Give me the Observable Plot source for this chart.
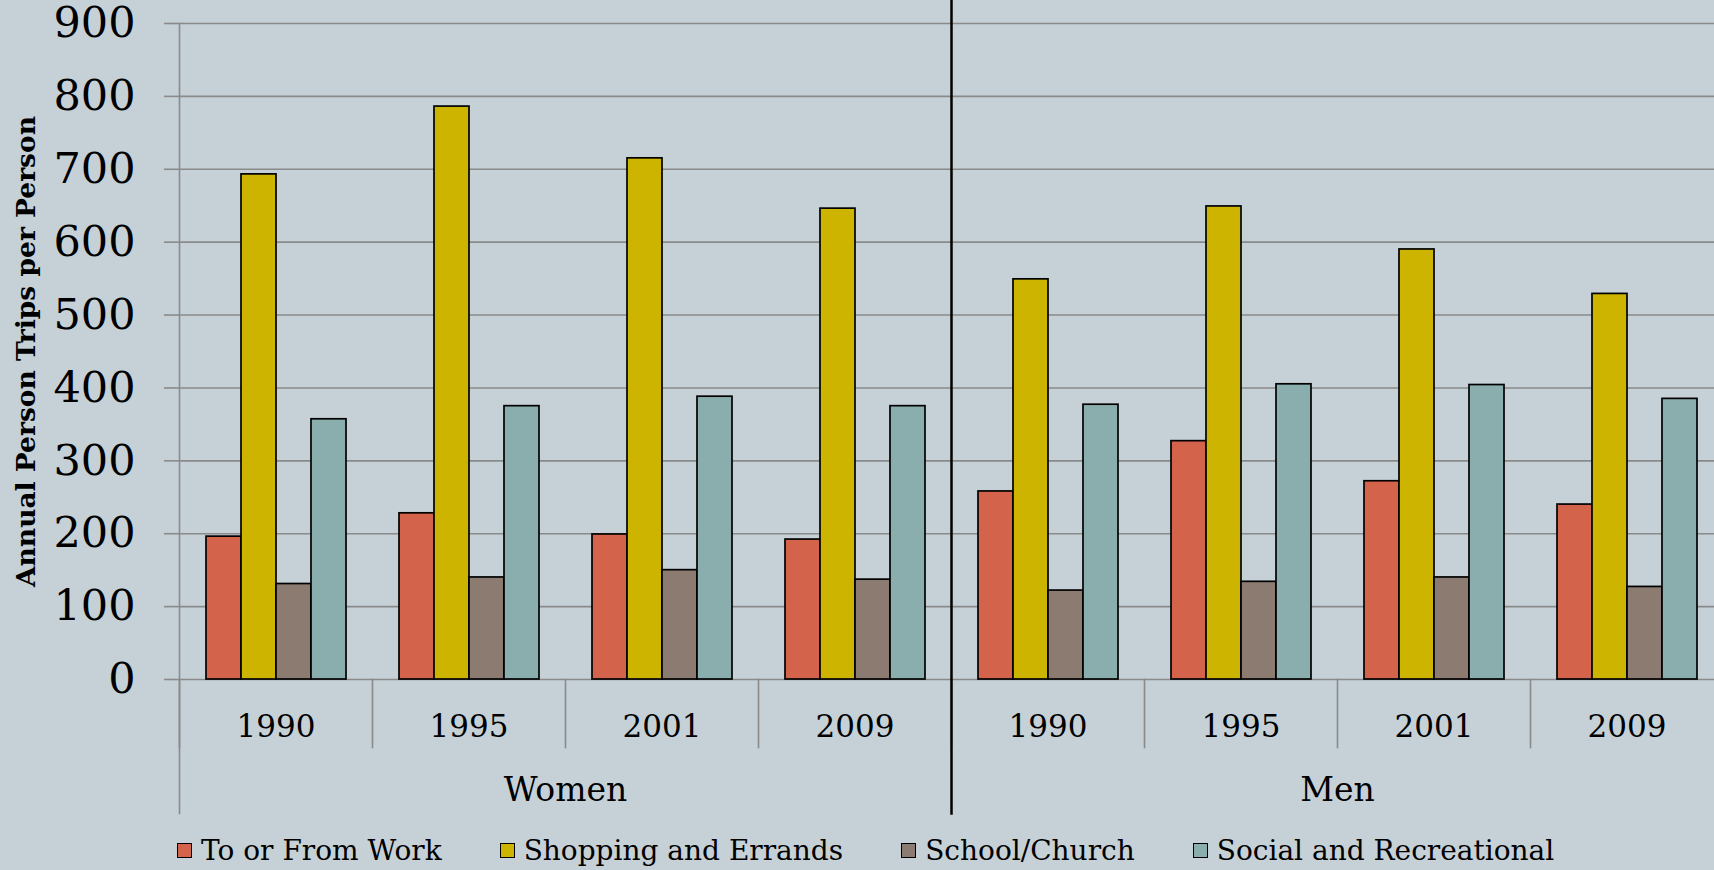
<!DOCTYPE html>
<html><head><meta charset="utf-8">
<script src="https://cdn.jsdelivr.net/npm/d3@7"></script>
<script src="https://cdn.jsdelivr.net/npm/@observablehq/plot@0.6"></script>
<style>
html,body{margin:0;padding:0;background:#c6d1d7;overflow:hidden;width:1714px;height:870px}
#legend{display:flex;align-items:center;height:40px;padding-left:177px;font-family:"DejaVu Serif";font-size:28px;color:#000;white-space:nowrap}
.item{display:flex;align-items:center;margin-right:58px}
.sw{width:13px;height:13px;border:1.5px solid #000;margin-right:9px}
</style></head><body><div id="chart"></div><div id="legend"></div>
<script>
const genders = ["Women", "Men"];
const years = ["1990", "1995", "2001", "2009"];
const categories = ["To or From Work", "Shopping and Errands", "School/Church", "Social and Recreational"];
const colors = ["#d3634a", "#ccb400", "#8b7b70", "#8aaeae"];
// values: Women 1990,1995,2001,2009 then Men 1990,1995,2001,2009
const toFromWork   = [196, 228, 199, 192, 258, 327, 272, 240];
const shopping     = [693, 786, 715, 646, 549, 649, 590, 529];
const schoolChurch = [131, 140, 150, 137, 122, 134, 140, 127];
const socialRec    = [357, 375, 388, 375, 377, 405, 404, 385];
const yTicks = [0, 100, 200, 300, 400, 500, 600, 700, 800, 900];
const yTitle = "Annual Person Trips per Person";

const series = [toFromWork, shopping, schoolChurch, socialRec];
const keys = genders.flatMap(g => years.map(y => g + " " + y));
const rows = [];
keys.forEach((k, i) => categories.forEach((c, j) => rows.push({key: k, cat: c, value: series[j][i]})));

const gray = "#8a8a8a";
const H = 830, mTop = 23, mBottom = 151;
const frameH = H - mTop - mBottom;
const chart = Plot.plot({
  width: 1723, height: H,
  marginLeft: 179, marginRight: 0, marginTop: mTop, marginBottom: mBottom,
  style: {background: "transparent", fontFamily: "DejaVu Serif", color: "#000", maxWidth: "none", overflow: "visible"},
  fx: {domain: keys, padding: 0},
  x: {domain: categories, paddingInner: 0, paddingOuter: 0.74, axis: null},
  y: {domain: [0, 900]},
  color: {domain: categories, range: colors},
  marks: [
    Plot.gridY(yTicks, {stroke: gray, strokeOpacity: 1, strokeWidth: 1.6}),
    Plot.axisY(yTicks, {tickSize: 15, tickPadding: 29, stroke: gray, strokeOpacity: 1, strokeWidth: 1.6, fontSize: 43, label: null, tickFormat: d => String(d)}),
    Plot.frame({anchor: "left", stroke: gray, strokeWidth: 1.6, insetTop: frameH, insetBottom: -68}),
    Plot.frame({anchor: "left", fx: () => keys[0], stroke: gray, strokeWidth: 1.6, insetBottom: -134}),
    Plot.barY(rows, {fx: "key", x: "cat", y: "value", fill: "cat", stroke: "#000", strokeWidth: 1.7}),
    Plot.frame({anchor: "left", fx: () => keys[4], stroke: "#000", strokeWidth: 2.5, insetTop: -mTop, insetBottom: -134}),
    Plot.axisFx({anchor: "bottom", tickSize: 0, tickPadding: 35, fontSize: 31, label: null, tickFormat: k => k.split(" ")[1]}),
    Plot.text(genders, {fx: g => g + " " + years[1], frameAnchor: "bottom-right", text: d => d, textAnchor: "middle", lineAnchor: "middle", dy: 111, fontSize: 33}),
    Plot.text([yTitle], {fx: () => keys[0], frameAnchor: "left", text: d => d, rotate: -90, dx: -153, textAnchor: "middle", lineAnchor: "middle", fontSize: 26.5, fontWeight: "bold"})
  ]
});
document.getElementById("chart").appendChild(chart);

const legend = document.getElementById("legend");
categories.forEach((c, j) => {
  const it = document.createElement("div"); it.className = "item";
  const sw = document.createElement("div"); sw.className = "sw"; sw.style.background = colors[j];
  const tx = document.createElement("span"); tx.textContent = c;
  it.appendChild(sw); it.appendChild(tx); legend.appendChild(it);
});
</script></body></html>
